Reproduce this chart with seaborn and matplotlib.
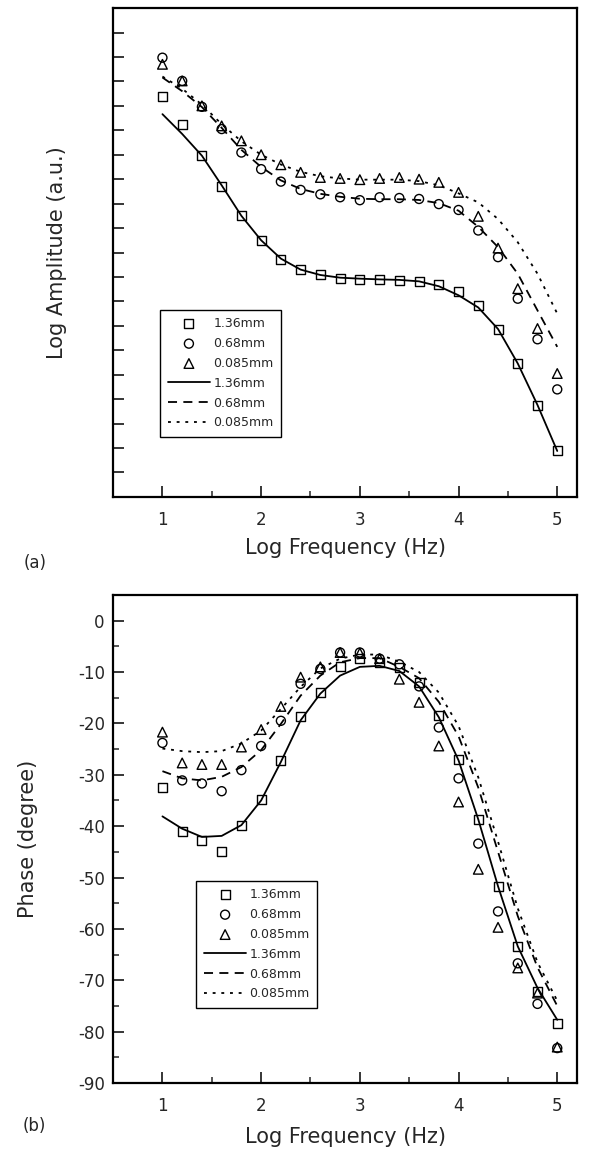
import pandas as pd
import seaborn as sns
import matplotlib
matplotlib.use("Agg")
import matplotlib.pyplot as plt
from matplotlib.ticker import MultipleLocator, NullFormatter

# log frequency grid shared by all series
freq = [1.0, 1.2, 1.4, 1.6, 1.8, 2.0, 2.2, 2.4, 2.6, 2.8, 3.0,
        3.2, 3.4, 3.6, 3.8, 4.0, 4.2, 4.4, 4.6, 4.8, 5.0]

# (a) amplitude, arbitrary units - measured points
amp_136 = [16.37, 15.25, 13.96, 12.69, 11.51, 10.49, 9.71, 9.29, 9.08, 8.95, 8.90,
           8.89, 8.86, 8.83, 8.69, 8.42, 7.84, 6.87, 5.46, 3.76, 1.88]
amp_068 = [17.97, 17.02, 15.96, 15.05, 14.09, 13.41, 12.90, 12.56, 12.38, 12.26, 12.14,
           12.26, 12.23, 12.19, 11.98, 11.74, 10.90, 9.81, 8.11, 6.45, 4.40]
amp_0085 = [17.70, 17.02, 16.00, 15.18, 14.57, 14.00, 13.59, 13.28, 13.07, 13.03, 12.98,
            13.03, 13.07, 13.00, 12.87, 12.46, 11.48, 10.18, 8.52, 6.89, 5.05]
# (a) amplitude - model curves
amp_fit_136 = [15.66, 14.85, 13.96, 12.75, 11.50, 10.50, 9.75, 9.30, 9.08, 8.97, 8.93,
               8.90, 8.88, 8.82, 8.62, 8.25, 7.75, 6.87, 5.46, 3.76, 1.88]
amp_fit_068 = [17.16, 16.60, 15.95, 15.10, 14.20, 13.50, 12.95, 12.60, 12.40, 12.28, 12.20,
               12.18, 12.18, 12.15, 12.02, 11.71, 11.05, 10.22, 9.13, 7.63, 6.14]
amp_fit_0085 = [17.20, 16.70, 16.05, 15.25, 14.55, 14.00, 13.60, 13.30, 13.12, 13.03, 12.98,
                12.98, 12.98, 12.92, 12.75, 12.42, 12.05, 11.37, 10.42, 9.13, 7.50]

# (b) phase, degrees - measured points
ph_136 = [-32.4, -41.1, -42.7, -44.9, -39.8, -34.8, -27.3, -18.6, -14.0, -9.0, -7.4,
          -8.1, -9.2, -12.0, -18.4, -27.0, -38.7, -51.7, -63.4, -72.2, -78.4]
ph_068 = [-23.8, -31.1, -31.7, -33.2, -29.1, -24.4, -19.5, -12.3, -9.4, -6.2, -6.2,
          -7.4, -8.5, -12.8, -20.8, -30.7, -43.4, -56.6, -66.7, -74.6, -83.2]
ph_0085 = [-21.7, -27.7, -28.0, -28.0, -24.6, -21.2, -16.7, -11.0, -9.0, -6.2, -6.3,
           -7.4, -11.4, -15.9, -24.4, -35.3, -48.4, -59.7, -67.6, -72.5, -83.0]
# (b) phase - model curves
ph_fit_136 = [-38.1, -40.5, -42.1, -41.9, -39.8, -35.0, -27.5, -19.4, -14.2, -10.7, -9.0,
              -8.8, -9.8, -12.8, -18.8, -27.2, -38.7, -51.7, -63.4, -71.5, -77.7]
ph_fit_068 = [-29.3, -30.7, -31.1, -30.4, -28.5, -25.2, -20.1, -14.6, -10.7, -8.1, -7.3,
              -7.3, -9.0, -11.2, -15.8, -22.5, -32.5, -45.0, -57.5, -67.5, -75.0]
ph_fit_0085 = [-24.9, -25.4, -25.6, -25.4, -23.9, -21.4, -17.2, -12.9, -9.3, -7.4, -6.6,
               -6.6, -8.0, -10.0, -14.0, -20.5, -30.5, -43.0, -56.0, -66.5, -74.0]

labels = ["1.36mm", "0.68mm", "0.085mm"]
markers = ["s", "o", "^"]
linestyles = ["-", (0, (5, 3.5)), (0, (1.6, 3.2))]

sns.set_style("ticks")
plt.rcParams["font.family"] = ["DejaVu Sans"]
plt.rcParams["axes.unicode_minus"] = False


def draw_panel(ax, points, fits):
    for vals, lab, mk in zip(points, labels, markers):
        sns.scatterplot(x=freq, y=vals, marker=mk, s=42 if mk != "^" else 48,
                        facecolor="none", edgecolor="black", linewidth=1.0,
                        label=lab, ax=ax, zorder=3)
    for vals, lab, ls in zip(fits, labels, linestyles):
        sns.lineplot(x=freq, y=vals, color="black", linestyle=ls, linewidth=1.3,
                     label=lab, ax=ax, estimator=None)
    handles, labs = ax.get_legend_handles_labels()
    ax.legend(handles, labs, fontsize=9, frameon=True, fancybox=False,
              edgecolor="black", framealpha=1, handlelength=3.4,
              handletextpad=0.25, labelspacing=0.55, borderpad=0.6,
              loc="lower left")
    ax.set_xlim(0.5, 5.2)
    ax.xaxis.set_major_locator(MultipleLocator(1))
    ax.xaxis.set_minor_locator(MultipleLocator(0.5))
    ax.tick_params(which="both", direction="in", top=False, right=False)
    ax.tick_params(which="major", length=8, width=1.3, labelsize=12)
    ax.tick_params(which="minor", length=4, width=1.1)
    ax.tick_params(axis="x", pad=10)
    for sp in ax.spines.values():
        sp.set_linewidth(1.6)
        sp.set_color("black")
    ax.set_xlabel("Log Frequency (Hz)", fontsize=15)


fig = plt.figure(figsize=(6.08, 11.53), dpi=100)
ax1 = fig.add_axes([0.186, 0.569, 0.763, 0.424])
ax2 = fig.add_axes([0.186, 0.0607, 0.763, 0.4233])

draw_panel(ax1, [amp_136, amp_068, amp_0085], [amp_fit_136, amp_fit_068, amp_fit_0085])
ax1.set_ylim(0, 20)
ax1.yaxis.set_major_locator(MultipleLocator(1))
ax1.yaxis.set_major_formatter(NullFormatter())
ax1.set_ylabel("Log Amplitude (a.u.)", fontsize=15)
ax1.legend_.set_bbox_to_anchor((0.088, 0.11))
ax1.xaxis.set_label_coords(0.5, -0.085)
ax1.yaxis.set_label_coords(-0.1, 0.5)

draw_panel(ax2, [ph_136, ph_068, ph_0085], [ph_fit_136, ph_fit_068, ph_fit_0085])
ax2.set_ylim(-90, 5)
ax2.yaxis.set_major_locator(MultipleLocator(10))
ax2.yaxis.set_minor_locator(MultipleLocator(5))
ax2.tick_params(axis="y", pad=6)
ax2.set_ylabel("Phase (degree)", fontsize=15)
ax2.legend_.set_bbox_to_anchor((0.166, 0.141))
ax2.xaxis.set_label_coords(0.5, -0.09)
ax2.yaxis.set_label_coords(-0.162, 0.5)

fig.text(0.057, 1 - 563 / 1153, "(a)", fontsize=12, ha="center", va="center")
fig.text(0.057, 1 - 1126 / 1153, "(b)", fontsize=12, ha="center", va="center")

fig.savefig("out.png", dpi=100)
